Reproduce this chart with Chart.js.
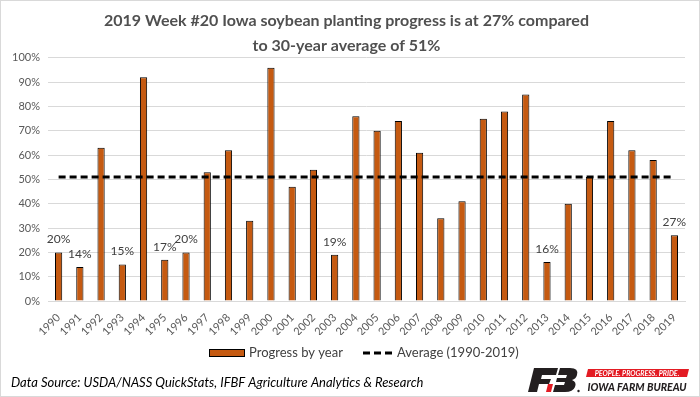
<!DOCTYPE html>
<html>
<head>
<meta charset="utf-8">
<script src="https://cdn.jsdelivr.net/npm/chart.js@4/dist/chart.umd.min.js"></script>
<style>
html,body{margin:0;padding:0;background:#fff;}
#wrap{position:relative;width:700px;height:397px;}
canvas{display:block;}
</style>
</head>
<body>
<div id="wrap"><canvas id="c" width="700" height="397"></canvas></div>
<script>
const years = ['1990','1991','1992','1993','1994','1995','1996','1997','1998','1999','2000','2001','2002','2003','2004','2005','2006','2007','2008','2009','2010','2011','2012','2013','2014','2015','2016','2017','2018','2019'];
const progress = [20,14,63,15,92,17,20,53,62,33,96,47,54,19,76,70,74,61,34,41,75,78,85,16,40,51,74,62,58,27];
const averageValue = 51;
const averageLine = years.map(() => averageValue);
const labeledYears = ['1990','1991','1993','1995','1996','2003','2013','2019'];
const yTicks = [0,10,20,30,40,50,60,70,80,90,100];
const titleLines = ['2019 Week #20 Iowa soybean planting progress is at 27% compared','to 30-year average of 51%'];
const sourceText = 'Data Source: USDA/NASS QuickStats, IFBF Agriculture Analytics & Research';

const FONT = 'Lato, "Open Sans", sans-serif';
const TXT = '#404040';

const decor = {
  id: 'decor',
  afterDatasetsDraw(chart) {
    const ctx = chart.ctx;
    const meta = chart.getDatasetMeta(0);
    ctx.save();
    ctx.font = '12px ' + FONT;
    ctx.fillStyle = TXT;
    ctx.textAlign = 'center';
    ctx.textBaseline = 'middle';
    years.forEach((y, i) => {
      if (labeledYears.includes(y)) {
        const el = meta.data[i];
        ctx.fillText(progress[i] + '%', el.x, el.y - 13);
      }
    });
    ctx.restore();
  },
  afterDraw(chart) {
    const ctx = chart.ctx;
    ctx.save();
    ctx.strokeStyle = '#d9d9d9';
    ctx.lineWidth = 1;
    ctx.strokeRect(0.5, 0.5, chart.width - 1, chart.height - 1);

    // legend
    const ly = 353;
    const ds0 = chart.data.datasets[0], ds1 = chart.data.datasets[1];
    ctx.fillStyle = ds0.backgroundColor;
    ctx.fillRect(209, ly - 4, 36, 8);
    ctx.strokeStyle = '#000';
    ctx.lineWidth = 1;
    ctx.strokeRect(209.5, ly - 3.5, 35, 7);
    ctx.font = '13px ' + FONT;
    ctx.fillStyle = TXT;
    ctx.textBaseline = 'middle';
    ctx.textAlign = 'left';
    ctx.fillText(ds0.label, 249, ly);
    ctx.beginPath();
    ctx.setLineDash([7, 4]);
    ctx.lineWidth = 3;
    ctx.strokeStyle = ds1.borderColor;
    ctx.moveTo(363, ly);
    ctx.lineTo(393, ly);
    ctx.stroke();
    ctx.setLineDash([]);
    ctx.fillText(ds1.label, 397, ly);

    // source
    ctx.font = 'italic 13px ' + FONT;
    ctx.fillStyle = '#000';
    ctx.fillText(sourceText, 11, 383);

    // logo mark
    ctx.fillStyle = '#231f20';
    ctx.beginPath(); // F
    ctx.moveTo(534, 368); ctx.lineTo(558, 368); ctx.lineTo(556, 375);
    ctx.lineTo(542, 375); ctx.lineTo(541, 379); ctx.lineTo(551, 379);
    ctx.lineTo(549, 384); ctx.lineTo(539, 384); ctx.lineTo(537, 392);
    ctx.lineTo(528, 392); ctx.closePath(); ctx.fill();
    ctx.beginPath(); // B
    ctx.moveTo(560, 368); ctx.lineTo(570, 368);
    ctx.quadraticCurveTo(579, 368, 577, 375);
    ctx.quadraticCurveTo(576, 379, 572, 380);
    ctx.quadraticCurveTo(577, 382, 575, 387);
    ctx.quadraticCurveTo(573, 392, 565, 392);
    ctx.lineTo(553, 392); ctx.lineTo(555, 385); ctx.lineTo(564, 385);
    ctx.lineTo(565, 382); ctx.lineTo(556, 382); ctx.lineTo(557, 378);
    ctx.lineTo(566, 378); ctx.lineTo(567, 375); ctx.lineTo(558, 375);
    ctx.closePath(); ctx.fill();
    ctx.fillStyle = '#e31b23';
    ctx.beginPath();
    ctx.moveTo(548, 384); ctx.lineTo(553, 384); ctx.lineTo(551, 392); ctx.lineTo(546, 392);
    ctx.closePath(); ctx.fill();
    ctx.fillStyle = '#231f20';
    ctx.beginPath(); ctx.arc(578.5, 391, 1.2, 0, Math.PI * 2); ctx.fill();

    // red banner
    ctx.fillStyle = '#e31b23';
    ctx.beginPath();
    ctx.moveTo(588, 369); ctx.lineTo(689, 369); ctx.lineTo(687, 377); ctx.lineTo(586, 377);
    ctx.closePath(); ctx.fill();
    ctx.fillStyle = '#fff';
    ctx.font = 'italic bold 7px ' + FONT;
    ctx.textAlign = 'center';
    ctx.fillText('PEOPLE. PROGRESS. PRIDE.', 637, 373.5);
    ctx.fillStyle = '#231f20';
    ctx.font = 'italic 900 10.5px ' + FONT;
    ctx.fillText('IOWA FARM BUREAU', 637, 387.5);
    ctx.restore();
  }
};

new Chart(document.getElementById('c'), {
  data: {
    labels: years,
    datasets: [
      {
        type: 'bar',
        label: 'Progress by year',
        data: progress,
        backgroundColor: '#C55A11',
        borderColor: '#000',
        borderWidth: 1,
        categoryPercentage: 1,
        barPercentage: 0.34,
        order: 2
      },
      {
        type: 'line',
        label: 'Average (1990-2019)',
        data: averageLine,
        borderColor: '#000',
        borderWidth: 3,
        borderDash: [7, 4],
        pointRadius: 0,
        fill: false,
        order: 1
      }
    ]
  },
  options: {
    responsive: false,
    animation: false,
    layout: { padding: { left: 8, right: 15, top: 2, bottom: 62 } },
    plugins: {
      legend: { display: false },
      tooltip: { enabled: false },
      title: {
        display: true,
        text: titleLines,
        color: '#505050',
        font: { family: FONT, size: 16, weight: 'bold', lineHeight: 1.56 },
        padding: { top: 6, bottom: 0 }
      }
    },
    scales: {
      x: {
        grid: { display: false },
        border: { color: '#d9d9d9' },
        ticks: {
          color: '#595959',
          font: { family: FONT, size: 11 },
          minRotation: 45, maxRotation: 45,
          autoSkip: false,
          padding: 2
        },
        afterFit(s) { s.height = 34; }
      },
      y: {
        min: 0, max: 100,
        afterBuildTicks(s) { s.ticks = yTicks.map(v => ({ value: v })); },
        grid: { color: '#d9d9d9', drawTicks: false },
        border: { display: false },
        ticks: {
          color: '#595959',
          font: { family: FONT, size: 11 },
          padding: 8,
          callback: v => v + '%'
        },
        afterFit(s) { s.width = 40; }
      }
    }
  },
  plugins: [decor]
});
</script>
</body>
</html>
